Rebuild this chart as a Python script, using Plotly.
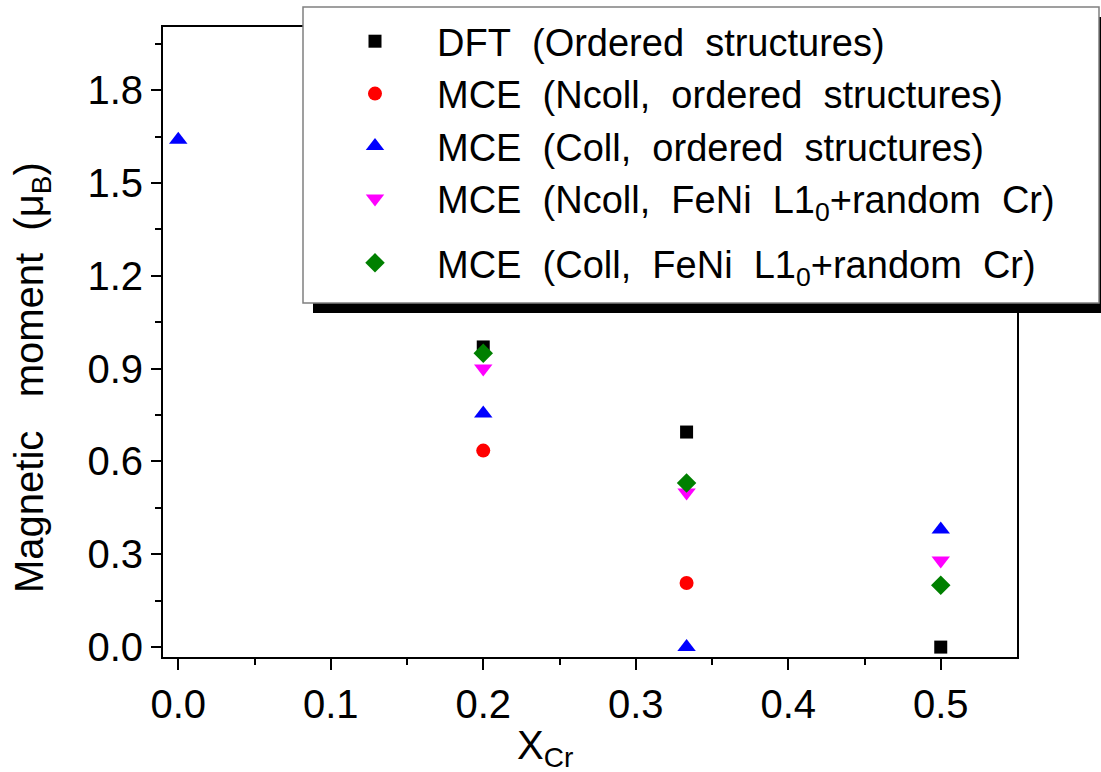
import plotly.graph_objects as go

# ---- data ----
SP = "\u00a0\u00a0"
names = [
    f"DFT{SP}(Ordered{SP}structures)",
    f"MCE{SP}(Ncoll,{SP}ordered{SP}structures)",
    f"MCE{SP}(Coll,{SP}ordered{SP}structures)",
    f"MCE{SP}(Ncoll,{SP}FeNi{SP}L1<sub>0</sub>+random{SP}Cr)",
    f"MCE{SP}(Coll,{SP}FeNi{SP}L1<sub>0</sub>+random{SP}Cr)",
]
groups = ["g1", "g1", "g1", "g1", "g2"]

dft_x = [0.2, 1/3, 0.5]
dft_y = [0.97, 0.695, 0.0]
ncoll_ord_x = [0.2, 1/3]
ncoll_ord_y = [0.635, 0.207]
coll_ord_x = [0.0, 0.2, 1/3, 0.5]
coll_ord_y = [1.64, 0.755, 0.0, 0.38]
ncoll_rand_x = [0.2, 1/3, 0.5]
ncoll_rand_y = [0.90, 0.50, 0.28]
coll_rand_x = [0.2, 1/3, 0.5]
coll_rand_y = [0.95, 0.53, 0.20]

x_ticks = [0.0, 0.1, 0.2, 0.3, 0.4, 0.5]
x_minor = [0.05, 0.15, 0.25, 0.35, 0.45]
y_ticks = [0.0, 0.3, 0.6, 0.9, 1.2, 1.5, 1.8]
y_minor = [0.15, 0.45, 0.75, 1.05, 1.35, 1.65, 1.95]

FONT = "Liberation Sans, Arial, sans-serif"

series = [
    (dft_x, dft_y, "square", "#000000", 13),
    (ncoll_ord_x, ncoll_ord_y, "circle", "#ff0000", 14),
    (coll_ord_x, coll_ord_y, "triangle-up", "#0000ff", 16),
    (ncoll_rand_x, ncoll_rand_y, "triangle-down", "#ff00ff", 16),
    (coll_rand_x, coll_rand_y, "diamond", "#008000", 15),
]

fig = go.Figure()
for (xs, ys, sym, col, sz), nm, grp in zip(series, names, groups):
    fig.add_trace(go.Scatter(
        x=xs, y=ys, mode="markers", name=nm, legendgroup=grp,
        marker=dict(symbol=sym, color=col, size=sz, line=dict(width=0)),
    ))

# plot area in pixels
L, R, T, B = 163, 1017, 27, 657
W, H = 1101, 772
pw, ph = R - L, B - T

def px(xp):
    return (xp - L) / pw

def py(yp):
    return (B - yp) / ph

shapes = [
    # legend shadow
    dict(type="rect", xref="paper", yref="paper",
         x0=px(313), x1=px(1115), y0=py(313), y1=py(17),
         fillcolor="#000000", line=dict(width=0), layer="above"),
    # legend box
    dict(type="rect", xref="paper", yref="paper",
         x0=px(303), x1=px(1099), y0=py(303), y1=py(7),
         fillcolor="#ffffff", line=dict(color="#808080", width=1.5), layer="above"),
]

annotations = [
    dict(text="Magnetic\u00a0\u00a0\u00a0moment\u00a0 (\u03bc<sub>B</sub>)", xref="paper", yref="paper",
         x=px(32), y=py(378), textangle=-90, showarrow=False,
         font=dict(family=FONT, size=40, color="#000000"),
         xanchor="center", yanchor="middle"),
    dict(text="X<sub>Cr</sub>", xref="paper", yref="paper",
         x=px(545), y=py(748), showarrow=False,
         font=dict(family=FONT, size=40, color="#000000"),
         xanchor="center", yanchor="middle"),
]

fig.update_layout(
    width=W, height=H,
    margin=dict(l=L, r=W - R, t=T, b=H - B, pad=0, autoexpand=False),
    paper_bgcolor="#ffffff", plot_bgcolor="#ffffff",
    font=dict(family=FONT, size=38, color="#000000"),
    showlegend=True,
    legend=dict(
        xref="container", yref="container",
        x=313 / W, y=1 - 10 / H, xanchor="left", yanchor="top",
        bgcolor="rgba(0,0,0,0)", borderwidth=0,
        font=dict(family=FONT, size=38, color="#000000"),
        itemsizing="trace", tracegroupgap=12, itemwidth=114,
    ),
    shapes=shapes,
    annotations=annotations,
)

fig.update_xaxes(
    range=[-0.01, 0.55], tickvals=x_ticks, ticktext=[f"{v:.1f}" for v in x_ticks],
    showgrid=False, zeroline=False,
    showline=True, linecolor="#000000", linewidth=2, mirror=True,
    ticks="outside", ticklen=11, tickwidth=2, tickcolor="#000000",
    minor=dict(tickvals=x_minor, ticks="outside", ticklen=6, tickwidth=2, tickcolor="#000000"),
    tickfont=dict(family=FONT, size=40, color="#000000"),
)
fig.update_yaxes(
    range=[-0.032, 2.004], tickvals=y_ticks, ticktext=[f"{v:.1f}" for v in y_ticks],
    showgrid=False, zeroline=False,
    showline=True, linecolor="#000000", linewidth=2, mirror=True,
    ticks="outside", ticklen=10, tickwidth=2, tickcolor="#000000",
    minor=dict(tickvals=y_minor, ticks="outside", ticklen=6, tickwidth=2, tickcolor="#000000"),
    tickfont=dict(family=FONT, size=40, color="#000000"),
)

fig.write_html("out.html")
